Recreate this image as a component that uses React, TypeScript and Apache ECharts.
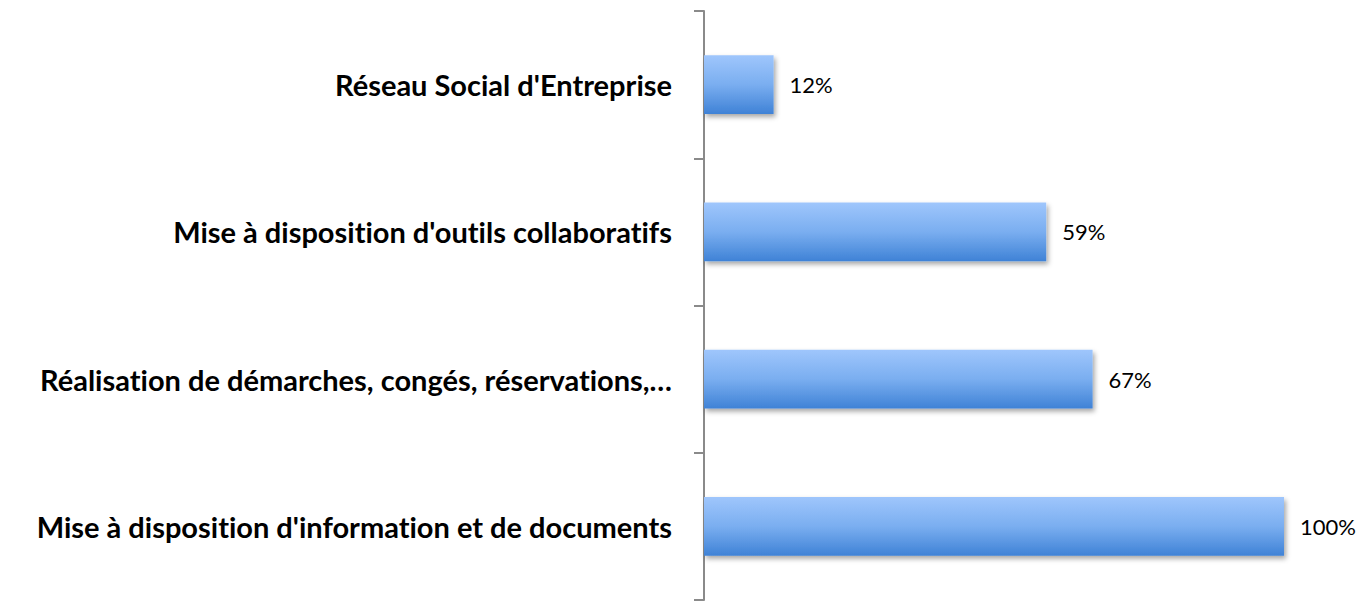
import React, { useEffect, useRef } from "react";
import * as echarts from "echarts";

const categories = [
  "Réseau Social d'Entreprise",
  "Mise à disposition d'outils collaboratifs",
  "Réalisation de démarches, congés, réservations,…",
  "Mise à disposition d'information et de documents",
];
const values = [12, 59, 67, 100];

export default function App() {
  const ref = useRef<HTMLDivElement>(null);
  useEffect(() => {
    if (!ref.current) return;
    const chart = echarts.init(ref.current, undefined, { renderer: "svg" });
    chart.setOption({
      animation: false,
      backgroundColor: "#ffffff",
      grid: { left: 704, top: 11, width: 580, height: 589, containLabel: false },
      xAxis: {
        type: "value",
        min: 0,
        max: 100,
        show: false,
      },
      yAxis: {
        type: "category",
        inverse: true,
        data: categories,
        axisLine: { show: true, lineStyle: { color: "#8a8a8a", width: 2 } },
        axisTick: { show: true, length: 10, lineStyle: { color: "#8a8a8a", width: 2 } },
        axisLabel: {
          margin: 32,
          fontFamily: "Lato",
          fontWeight: "bold",
          fontSize: 29,
          color: "#000000",
        },
        splitLine: { show: false },
      },
      series: [
        {
          type: "bar",
          data: values,
          barCategoryGap: "60%",
          itemStyle: {
            color: new echarts.graphic.LinearGradient(0, 0, 0, 1, [
              { offset: 0, color: "#9fc6fc" },
              { offset: 0.5, color: "#7aaef0" },
              { offset: 1, color: "#3f82d6" },
            ]),
            shadowColor: "rgba(0,0,0,0.35)",
            shadowBlur: 5,
            shadowOffsetX: 2,
            shadowOffsetY: 3,
          },
          label: {
            show: true,
            position: "right",
            distance: 16,
            formatter: "{c}%",
            fontFamily: "Lato",
            fontSize: 22,
            color: "#000000",
          },
        },
      ],
    });
    return () => chart.dispose();
  }, []);
  return (
    <div
      ref={ref}
      style={{
        position: "absolute",
        left: 0,
        top: 0,
        width: 1364,
        height: 601,
        fontVariantLigatures: "none",
      }}
    />
  );
}
